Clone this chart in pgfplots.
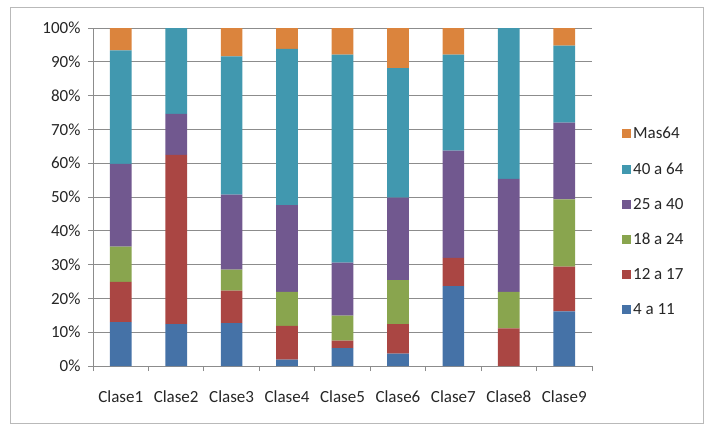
\documentclass[border=0pt]{standalone}
\usepackage{pgfplots}
\usepackage{pgfplotstable}
\pgfplotsset{compat=1.18}
\usepackage{fontspec}
\setmainfont{Carlito}
\definecolor{cA}{HTML}{4572A7}
\definecolor{cB}{HTML}{AA4643}
\definecolor{cC}{HTML}{89A54E}
\definecolor{cD}{HTML}{71588F}
\definecolor{cE}{HTML}{4198AF}
\definecolor{cF}{HTML}{DB843D}
\definecolor{gridc}{HTML}{8C8C8C}
\pgfplotstableread{
x a b c d e f
1 13.0 11.9 10.4 24.5 33.6 6.6
2 12.4 50.1 0 12.1 25.4 0
3 12.7 9.6 6.2 22.2 40.9 8.4
4 1.9 10.0 10.0 25.7 46.2 6.2
5 5.3 2.2 7.4 15.7 61.5 7.9
6 3.7 8.7 13.0 24.4 38.3 11.9
7 23.6 8.4 0 31.7 28.4 7.9
8 0 11.1 10.8 33.5 44.6 0
9 16.2 13.2 19.9 22.7 22.8 5.2
}\datatable
\begin{document}
\begin{tikzpicture}[x=1bp,y=1bp]
\useasboundingbox (0,0) rectangle (704,-426);
\draw[line width=1bp, gray!55] (10,-7) rectangle (703,-423);
\begin{axis}[
  at={(93bp,-366bp)}, anchor=south west,
  scale only axis, width=499bp, height=338bp,
  ybar stacked, bar width=21.7bp,
  xmin=0.5, xmax=9.5, ymin=0, ymax=100,
  xtick={0.5,1.5,...,9.5},
  xticklabels={Clase1,Clase2,Clase3,Clase4,Clase5,Clase6,Clase7,Clase8,Clase9},
  x tick label as interval,
  ytick={0,10,...,100},
  yticklabel={\pgfmathprintnumber{\tick}\%},
  /pgf/number format/assume math mode=true,
  tick label style={font=\fontsize{17bp}{20bp}\selectfont, text=black!85},
  x tick label style={yshift=-16bp},
  y tick label style={xshift=-4bp},
  tick align=outside, major tick length=5bp,
  tick style={gridc, line width=1bp},
  axis line style={gridc, line width=1bp},
  axis x line*=bottom, axis y line*=left,
  ymajorgrids, grid style={gridc, line width=1bp},
  xmajorgrids=false,
  enlargelimits=false,
  reverse legend,
  legend cell align=left,
  legend style={at={(1.06,0.713)}, anchor=north west, draw=none, fill=none,
     font=\fontsize{17bp}{20bp}\selectfont, text=black!85,
     row sep=18.5bp, inner sep=0pt},
  legend image code/.code={\fill[#1] (0bp,-4.5bp) rectangle (9bp,4.5bp);},
]
\addplot[fill=cA, draw=none] table[x=x,y=a]{\datatable};
\addplot[fill=cB, draw=none] table[x=x,y=b]{\datatable};
\addplot[fill=cC, draw=none] table[x=x,y=c]{\datatable};
\addplot[fill=cD, draw=none] table[x=x,y=d]{\datatable};
\addplot[fill=cE, draw=none] table[x=x,y=e]{\datatable};
\addplot[fill=cF, draw=none] table[x=x,y=f]{\datatable};
\legend{4 a 11,12 a 17,18 a 24,25 a 40,40 a 64,Mas64}
\end{axis}
\end{tikzpicture}
\end{document}
